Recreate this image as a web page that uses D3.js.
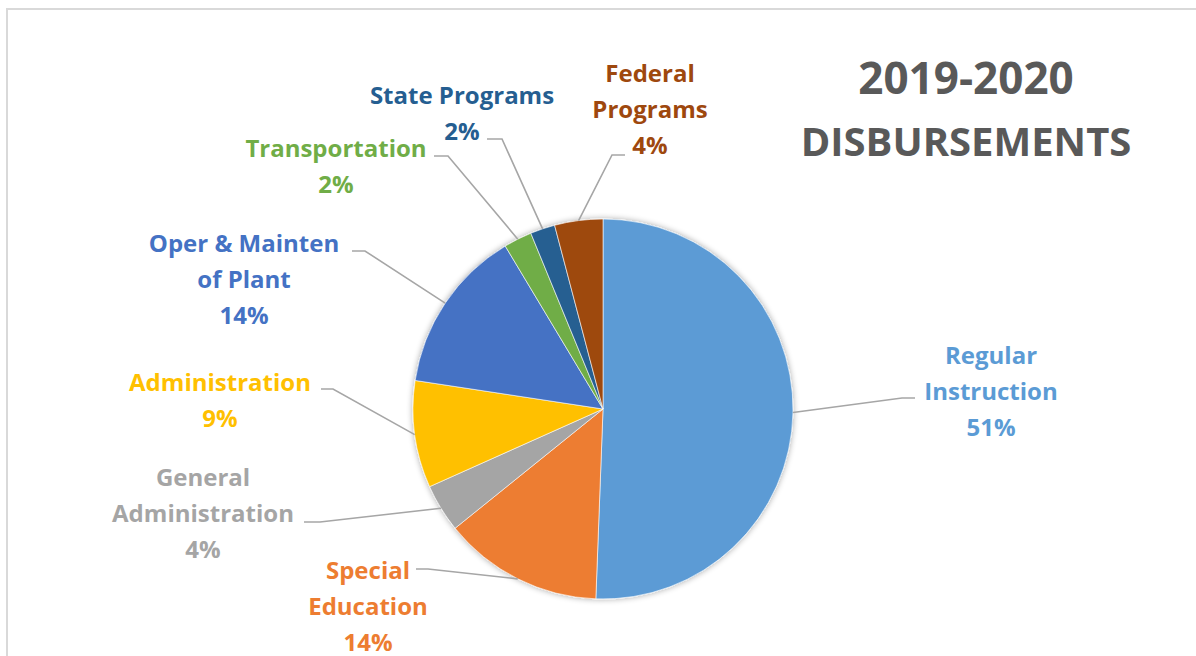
<!DOCTYPE html>
<html>
<head>
<meta charset="utf-8">
<script src="https://cdn.jsdelivr.net/npm/d3@7/dist/d3.min.js"></script>
<style>
  html, body { margin: 0; padding: 0; background: #fff; }
  svg { display: block; }
  text { font-family: "Open Sans", "DejaVu Sans", sans-serif; font-weight: bold; }
</style>
</head>
<body>
<svg id="chart" width="1196" height="656"></svg>
<script>
// ---- data ----
const categories = ["Regular Instruction", "Special Education", "General Administration",
  "Administration", "Oper & Mainten of Plant", "Transportation", "State Programs", "Federal Programs"];
const labelLines = [["Regular", "Instruction"], ["Special", "Education"], ["General", "Administration"],
  ["Administration"], ["Oper & Mainten", "of Plant"], ["Transportation"], ["State Programs"], ["Federal", "Programs"]];
const values = [50.6, 13.6, 4.1, 9.1, 14.0, 2.4, 2.1, 4.1];
const titleLines = ["2019-2020", "DISBURSEMENTS"];

// ---- styles / layout ----
const colors = ["#5b9bd5", "#ed7d31", "#a5a5a5", "#ffc000", "#4472c4", "#70ad47", "#255e91", "#9e480e"];
// label anchor: center x, first baseline y; leader: elbow (x,y), end x
const labelLayout = [
  { cx: 991, y: 364, ex: 902, ey: 398, tx: 915 },
  { cx: 368, y: 579, ex: 428, ey: 569, tx: 416 },
  { cx: 203, y: 486, ex: 320, ey: 522, tx: 304 },
  { cx: 220, y: 391, ex: 333, ey: 389, tx: 321 },
  { cx: 244, y: 252, ex: 365, ey: 251, tx: 352 },
  { cx: 336, y: 157, ex: 448, ey: 156, tx: 434 },
  { cx: 462, y: 104, ex: 502, ey: 139, tx: 487 },
  { cx: 650, y: 82,  ex: 612, ey: 155, tx: 625 }
];
const lineH = 36;
const cx = 603, cy = 409, R = 190;
const titleSizes = [44, 40];

const svg = d3.select("#chart");

// frame
svg.append("rect").attr("x", 7).attr("y", 9).attr("width", 1260).attr("height", 700)
  .attr("fill", "none").attr("stroke", "#d9d9d9").attr("stroke-width", 2);

// shadow filter
const defs = svg.append("defs");
const f = defs.append("filter").attr("id", "sh").attr("x", "-20%").attr("y", "-20%").attr("width", "140%").attr("height", "140%");
f.append("feGaussianBlur").attr("in", "SourceAlpha").attr("stdDeviation", 3).attr("result", "b");
f.append("feOffset").attr("in", "b").attr("dx", 0).attr("dy", 0).attr("result", "o");
f.append("feComponentTransfer").attr("in", "o").attr("result", "o2")
  .append("feFuncA").attr("type", "linear").attr("slope", 0.35);
const m = f.append("feMerge");
m.append("feMergeNode").attr("in", "o2");
m.append("feMergeNode").attr("in", "SourceGraphic");

const data = categories.map((c, i) => ({ name: c, value: values[i], i }));
const pie = d3.pie().value(d => d.value).sort(null);
const arcs = pie(data);
const arc = d3.arc().innerRadius(0).outerRadius(R);
const edge = d3.arc().innerRadius(R).outerRadius(R);

const g = svg.append("g").attr("transform", `translate(${cx},${cy})`);
const pg = g.append("g").attr("filter", "url(#sh)");
pg.selectAll("path").data(arcs).enter().append("path")
  .attr("d", arc)
  .attr("fill", d => colors[d.data.i])
  .attr("stroke", "#ffffff").attr("stroke-width", 0.6);

// leader lines
arcs.forEach(a => {
  const L = labelLayout[a.data.i];
  const p = edge.centroid(a);
  const pts = [[cx + p[0], cy + p[1]], [L.ex, L.ey], [L.tx, L.ey]];
  svg.append("path").attr("d", d3.line()(pts))
    .attr("fill", "none").attr("stroke", "#a6a6a6").attr("stroke-width", 1.6);
});

// labels
arcs.forEach(a => {
  const i = a.data.i;
  const L = labelLayout[i];
  const lines = labelLines[i].concat([Math.round(values[i]) + "%"]);
  const t = svg.append("text").attr("text-anchor", "middle")
    .attr("fill", colors[i]).style("font-size", "24px");
  lines.forEach((s, k) => {
    t.append("tspan").attr("x", L.cx).attr("y", L.y + k * lineH).text(s);
  });
});

// title
const tt = svg.append("text").attr("text-anchor", "middle").attr("fill", "#595959");
titleLines.forEach((s, k) => tt.append("tspan").attr("x", 966).attr("y", 94 + k * 62)
  .style("font-size", titleSizes[k] + "px").text(s));
</script>
</body>
</html>
